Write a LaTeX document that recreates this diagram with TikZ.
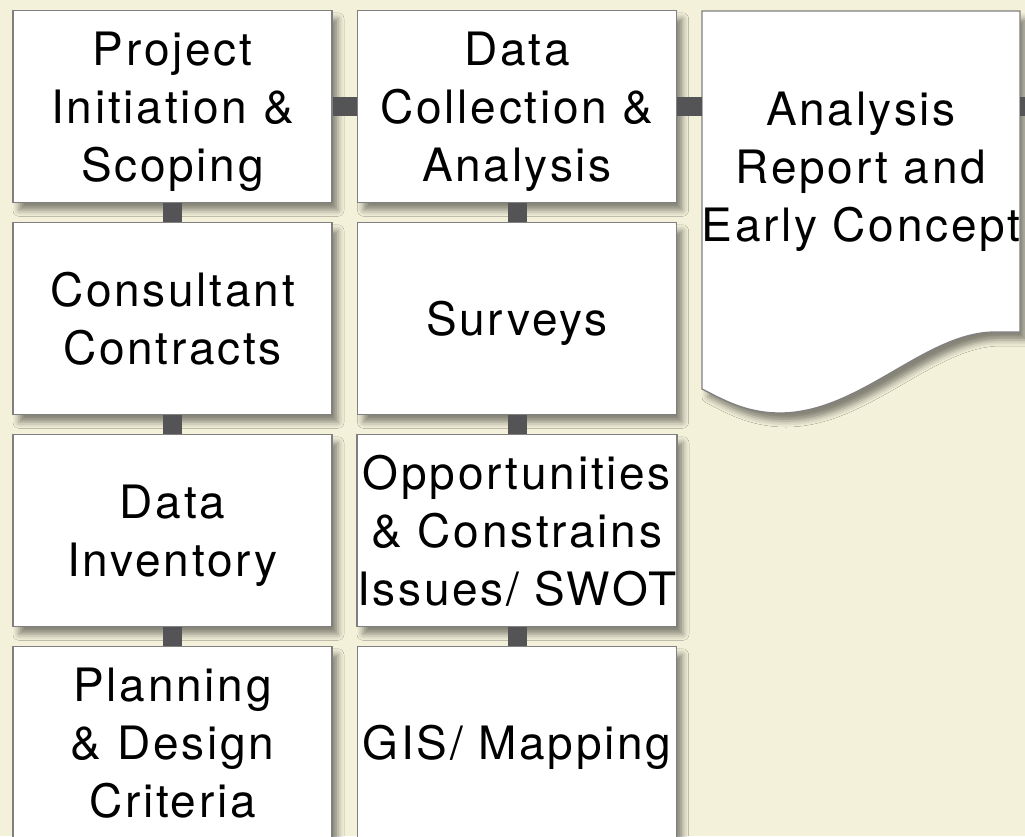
\documentclass[tikz,border=0pt]{standalone}
\usepackage{fontspec}
\setmainfont{TeX Gyre Heros}[LetterSpace=6]
\usetikzlibrary{shadows.blur}
\definecolor{bgc}{HTML}{F4F1DA}
\definecolor{bordc}{HTML}{808080}
\definecolor{connc}{HTML}{545456}
\tikzset{
  boxshadow/.style={blur shadow={shadow xshift=6pt, shadow yshift=-8pt, shadow blur radius=6pt, shadow opacity=45}},
  stepbox/.style={draw=bordc, line width=1.3pt, fill=white, minimum width=319pt, minimum height=191.5pt,
    inner sep=0pt, align=center, text depth=0pt, font=\fontsize{46}{58}\selectfont, boxshadow},
  boxtext/.style={inner sep=0pt, align=center, font=\fontsize{46}{58}\selectfont},
  conn/.style={draw=connc, line width=19pt},
}
\begin{document}
\begin{tikzpicture}[x=1pt,y=-1pt]
\fill[bgc] (0,0) rectangle (1025,836);
\useasboundingbox (0,0) rectangle (1025,836);
% document-shaped box
\draw[draw=bordc, line width=1.3pt, fill=white, boxshadow]
  (702,11) -- (1020,11) -- (1020,332) -- (995,332)
  .. controls (925,332) and (860,413) .. (780,413)
  .. controls (745,413) and (722,399) .. (702,389) -- cycle;
\node[boxtext] (b3) at (861,172) {Analysis\\Report and\\Early Concept};
\coordinate (b3w) at (702,106.5);
\coordinate (b3e) at (1020,106.5);
\coordinate (offr) at (1025,106.5);
% boxes
\node[stepbox] (b1) at (172.5,106.5) {Project\\Initiation \&\\Scoping};
\node[stepbox] (b2) at (517,106.5) {Data\\Collection \&\\Analysis};
\node[stepbox] (c1) at (172.5,318.5) {Consultant\\Contracts};
\node[stepbox] (s1) at (517,318.5) {Surveys};
\node[stepbox] (c2) at (172.5,530.5) {Data\\Inventory};
\node[stepbox] (s2) at (517,530.5) {Opportunities\\\& Constrains\\Issues/ SWOT};
\node[stepbox] (c3) at (172.5,742.5) {Planning\\\& Design\\Criteria};
\node[stepbox] (s3) at (517,742.5) {GIS/ Mapping};
% connectors
\draw[conn] (b1.east) -- (b2.west);
\draw[conn] (b2.east) -- (b3w);
\draw[conn] (b3e) -- (offr);
\draw[conn] (b1.south) -- (c1.north);
\draw[conn] (c1.south) -- (c2.north);
\draw[conn] (c2.south) -- (c3.north);
\draw[conn] (b2.south) -- (s1.north);
\draw[conn] (s1.south) -- (s2.north);
\draw[conn] (s2.south) -- (s3.north);
\end{tikzpicture}
\end{document}
